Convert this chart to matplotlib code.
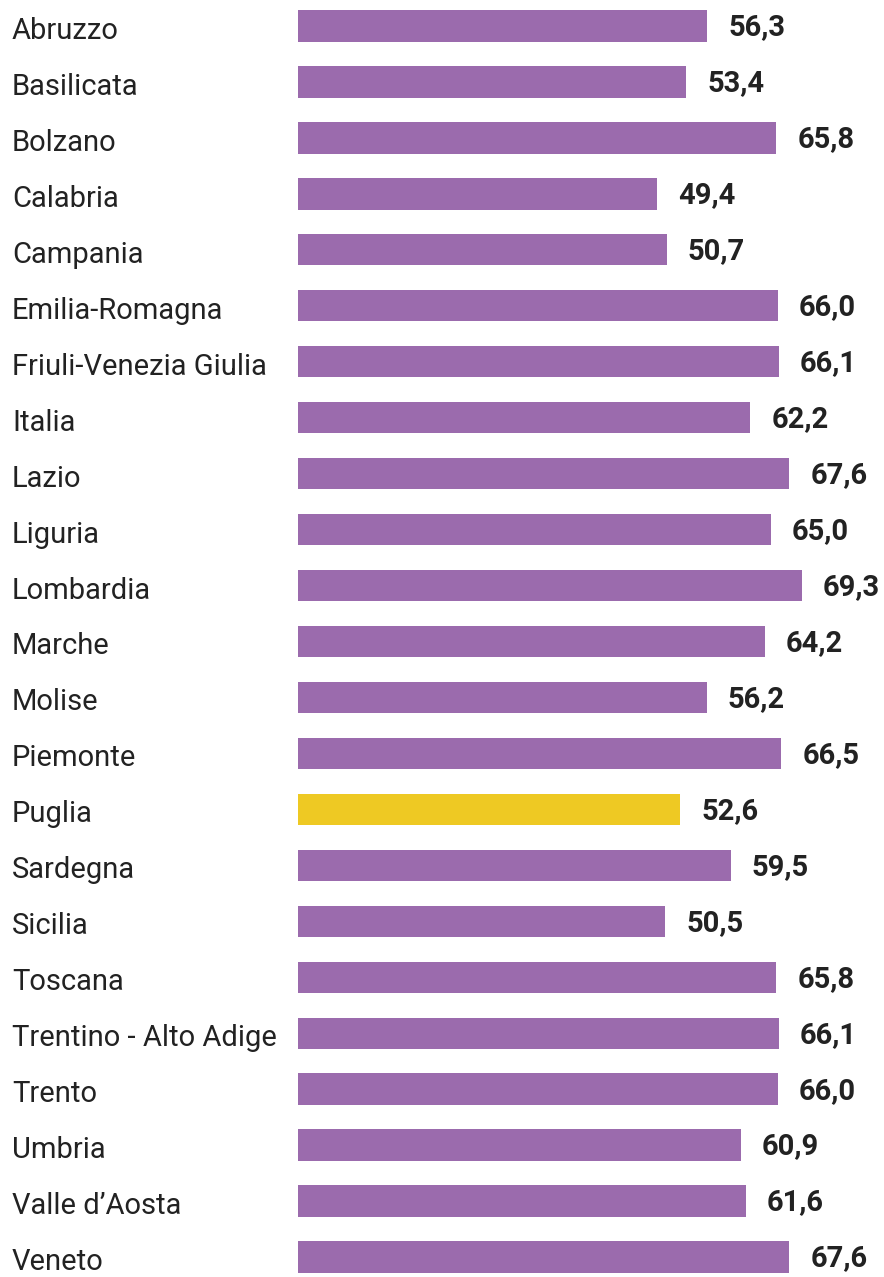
import matplotlib
matplotlib.use("Agg")
import matplotlib.pyplot as plt

regions = [
    "Abruzzo", "Basilicata", "Bolzano", "Calabria", "Campania",
    "Emilia-Romagna", "Friuli-Venezia Giulia", "Italia", "Lazio", "Liguria",
    "Lombardia", "Marche", "Molise", "Piemonte", "Puglia", "Sardegna",
    "Sicilia", "Toscana", "Trentino - Alto Adige", "Trento", "Umbria",
    "Valle d\u2019Aosta", "Veneto",
]
values = [
    56.3, 53.4, 65.8, 49.4, 50.7, 66.0, 66.1, 62.2, 67.6, 65.0, 69.3, 64.2,
    56.2, 66.5, 52.6, 59.5, 50.5, 65.8, 66.1, 66.0, 60.9, 61.6, 67.6,
]
highlight = "Puglia"

PURPLE = "#9b6bad"
YELLOW = "#eec923"
TEXT = "#222222"

plt.rcParams["font.family"] = ["Roboto", "DejaVu Sans"]

W, H, DPI = 884, 1277, 100
fig = plt.figure(figsize=(W / DPI, H / DPI), dpi=DPI)
left = 298 / W
ax = fig.add_axes([left, 0, 1 - left, 1])

n = len(regions)
pos = list(range(n))
colors = [YELLOW if r == highlight else PURPLE for r in regions]
ax.barh(pos, values, height=0.56, color=colors)

px_per_unit = 7.27
ax.set_xlim(0, (W - 298) / px_per_unit)
row_px = (1257 - 26) / (n - 1)
ax.set_ylim(n - 1 + (H - 1257) / row_px, -26 / row_px)
ax.axis("off")

for i, (r, v) in enumerate(zip(regions, values)):
    ax.text(v + 21 / px_per_unit, i + 1.5 / row_px, f"{v:.1f}".replace(".", ","),
            ha="left", va="center", fontsize=21, fontweight="bold", color=TEXT)
    fig.text(12 / W, 1 - (26 + i * row_px + 5) / H, r,
             ha="left", va="center", fontsize=21, color=TEXT)

fig.savefig("out.png", dpi=DPI)
